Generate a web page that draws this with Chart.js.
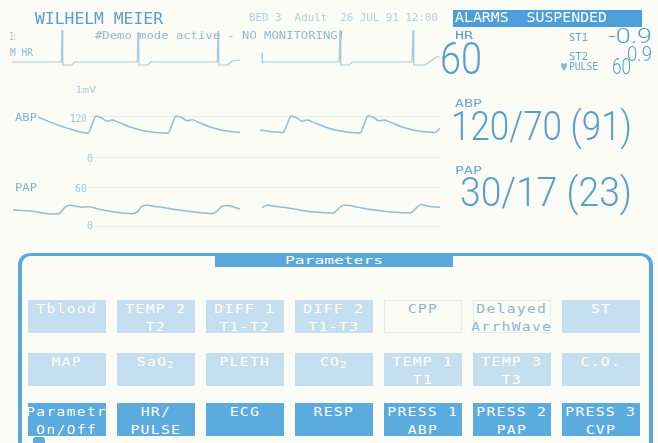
<!DOCTYPE html>
<html>
<head>
<meta charset="utf-8">
<script src="https://cdn.jsdelivr.net/npm/chart.js@4.4.1/dist/chart.umd.min.js"></script>
<style>
html, body { margin: 0; padding: 0; background: #fbfcf6; }
#screen { position: relative; width: 658px; height: 443px; overflow: hidden; background: #fbfcf6; }
.trace { position: absolute; left: 12px; width: 428px; }
.lbl { position: absolute; white-space: pre; transform-origin: 0 50%; }
.box { position: absolute; }
.btn { position: absolute; width: 78px; height: 33px; text-align: center; color: #fff;
       font-family: "DejaVu Sans Mono", monospace; font-size: 11.5px; line-height: 18px; }
.btn span { display: inline-block; transform: scaleX(1.28); letter-spacing: 1px; }
.btn sub { font-size: 8px; vertical-align: -2px; }
</style>
</head>
<body>
<div id="screen">
  <div class="trace" style="top:25px;height:45px"><canvas id="ecg"></canvas></div>
  <div class="trace" style="top:95px;height:65px"><canvas id="abp"></canvas></div>
  <div class="trace" style="top:170px;height:60px"><canvas id="pap"></canvas></div>
</div>
<script>
// sweep time in seconds (screen sweeps left to right, gap = erase bar)
const ecgTime = [0, 0.615, 0.625, 0.635, 0.75, 0.78, 1.565, 1.575, 1.585, 1.7, 1.73,
  2.565, 2.575, 2.585, 2.7, 2.75, 2.85, 2.98,
  3.125, 3.13, 3.14, 4.09, 4.1, 4.11, 4.22, 4.25, 5.0, 5.0125, 5.022, 5.17, 5.3, 5.35];
const ecgMv = [0, 0, 1.6, -0.15, -0.15, 0, 0, 1.5, -0.15, -0.15, 0,
  0, 1.55, -0.15, -0.15, 0.05, 0.1, null,
  0.45, -0.05, 0, 0, 1.6, -0.15, -0.15, 0, 0, 1.6, -0.15, -0.15, 0.25, 0.25];

const abpTime = [0.325, 0.538, 0.725, 0.95, 1.0, 1.05, 1.125, 1.188, 1.25, 1.325, 1.475, 1.663, 1.913,
  1.95, 2.0, 2.05, 2.125, 2.188, 2.25, 2.325, 2.475, 2.663, 2.85, 2.98,
  3.1, 3.25, 3.388, 3.438, 3.488, 3.563, 3.625, 3.688, 3.763, 3.913, 4.1, 4.35,
  4.4, 4.45, 4.525, 4.588, 4.65, 4.725, 4.875, 5.063, 5.288, 5.35];
const abpMmHg = [117, 97, 82, 70, 94, 120, 114, 105, 108, 102, 88, 76, 70,
  70, 94, 120, 115, 106, 109, 102, 88, 77, 72, null,
  79, 74, 72, 95, 120, 114, 105, 108, 102, 88, 76, 70,
  94, 121, 115, 106, 108, 102, 88, 77, 72, 85];

const papTime = [0.013, 0.225, 0.538, 0.6, 0.663, 0.725, 0.8, 0.875, 0.95, 1.1, 1.288, 1.5,
  1.563, 1.625, 1.7, 1.788, 1.875, 2.038, 2.288, 2.5, 2.563, 2.625, 2.7, 2.788, 2.85, 2.98,
  3.125, 3.2, 3.3, 3.413, 3.6, 3.825, 4.013, 4.075, 4.138, 4.225, 4.325, 4.538, 4.788,
  4.975, 5.038, 5.113, 5.2, 5.35];
const papMmHg = [24.6, 23, 18.5, 20, 29, 32, 30.5, 29, 29.5, 25.5, 21.5, 19,
  21.5, 30.5, 32, 30, 29, 25.5, 21.5, 19, 23, 30.5, 31.5, 28.5, 26, null,
  28.5, 32, 30, 28.5, 24.6, 21, 20, 26, 32, 31.5, 29, 24.6, 21,
  20, 26, 33, 30.5, 29];

const abpRefs = [120, 0];
const papRefs = [60, 0];

const refLines = {
  id: 'refLines',
  beforeDatasetsDraw(chart, args, opts) {
    if (!opts.values) return;
    const { ctx, scales: { x, y } } = chart;
    ctx.save();
    ctx.strokeStyle = '#e3ecf0';
    ctx.lineWidth = 1;
    opts.values.forEach((v, i) => {
      const py = Math.round(y.getPixelForValue(v)) + 0.5;
      ctx.beginPath();
      ctx.moveTo(x.getPixelForValue(opts.from[i]), py);
      ctx.lineTo(x.right, py);
      ctx.stroke();
    });
    ctx.restore();
  }
};
Chart.register(refLines);

function trace(id, times, values, yMin, yMax, color, width, tension, refs, from) {
  return new Chart(document.getElementById(id), {
    type: 'line',
    data: {
      datasets: [{
        data: times.map((t, i) => ({ x: t, y: values[i] })),
        borderColor: color,
        borderWidth: width,
        pointRadius: 0,
        tension: tension,
        cubicInterpolationMode: tension ? 'monotone' : 'default',
        spanGaps: false
      }]
    },
    options: {
      responsive: true,
      maintainAspectRatio: false,
      animation: false,
      layout: { padding: 0 },
      plugins: { legend: { display: false }, tooltip: { enabled: false },
                 refLines: { values: refs, from: from } },
      scales: {
        x: { type: 'linear', min: 0, max: 5.35, display: false },
        y: { min: yMin, max: yMax, display: false }
      }
    }
  });
}

trace('ecg', ecgTime, ecgMv, -0.4, 1.85, '#a9cade', 1.2, 0, null, null);
trace('abp', abpTime, abpMmHg, -8.8, 181.5, '#92bcd5', 1.5, 0.4, abpRefs, [0.95, 1.04]);
trace('pap', papTime, papMmHg, -6.15, 86.2, '#92bcd5', 1.5, 0.4, papRefs, [0.95, 1.04]);

// ---- screen text and boxes ----
const screen = document.getElementById('screen');
const MONO = '"DejaVu Sans Mono", monospace';
const THIN = 'Roboto, "Liberation Sans", sans-serif';

function box(x, y, w, h, css) {
  const el = document.createElement('div');
  el.className = 'box';
  el.style.cssText = `left:${x}px;top:${y}px;width:${w}px;height:${h}px;${css}`;
  screen.appendChild(el);
  return el;
}

function put(str, x, capTop, capH, w, color, fam) {
  const thin = fam === THIN;
  const fs = capH / (thin ? 0.72 : 0.72);
  const el = document.createElement('div');
  el.className = 'lbl';
  el.textContent = str;
  el.style.cssText = `left:${x}px;top:${capTop + capH / 2 - 0.49 * fs}px;font-size:${fs}px;` +
    `line-height:${fs}px;color:${color};font-family:${fam};font-weight:${thin ? 300 : 400}`;
  screen.appendChild(el);
  const mw = el.getBoundingClientRect().width;
  el.style.transform = `scaleX(${w / mw})`;
}

// header
put('WILHELM MEIER', 35, 13, 12, 128, '#5a9ecf', MONO);
put('BED 3  Adult  26 JUL 91 12:00', 249, 14, 7, 189, '#b3cfe0', MONO);
box(453, 10, 189, 17, 'background:#4c9fd8');
put('ALARMS  SUSPENDED', 455, 13, 10, 152, '#ffffff', MONO);
put('I:', 10, 33, 7, 6, '#8db8d2', MONO);
put('M HR', 10, 49, 7, 23, '#8db8d2', MONO);
put('#Demo mode active - NO MONITORING!', 95, 32, 7, 250, '#93bbd2', MONO);

// right side numerics
put('HR', 455, 31, 8, 18, '#5a9ecf', MONO);
put('60', 440, 43, 32, 42, '#5a9ecf', THIN);
put('ST1', 569, 33, 8, 19, '#6aa7d2', MONO);
put('-0.9', 608, 29, 15, 44, '#5a9ecf', THIN);
put('ST2', 569, 52, 8, 19, '#6aa7d2', MONO);
put('0.9', 627, 47, 15, 25, '#5a9ecf', THIN);
put('♥', 560, 63, 8, 8, '#8db8d2', '"DejaVu Sans", sans-serif');
put('PULSE', 569, 63, 7, 29, '#6aa7d2', MONO);
put('60', 612, 58, 16, 19, '#5a9ecf', THIN);

put('ABP', 455, 100, 7, 27, '#6aa7d2', MONO);
put('120/70 (91)', 451, 112, 29, 181, '#5a9ecf', THIN);
put('PAP', 455, 167, 7, 27, '#6aa7d2', MONO);
put('30/17 (23)', 460, 178, 29, 172, '#5a9ecf', THIN);

// wave labels
put('1mV', 75, 87, 6, 21, '#b6cfdd', MONO);
put('ABP', 15, 114, 7, 22, '#7fb1d8', MONO);
put('120', 70, 114, 8, 17, '#a6c6da', MONO);
put('0', 87, 155, 7, 6, '#a6c6da', MONO);
put('PAP', 15, 184, 7, 22, '#7fb1d8', MONO);
put('60', 75, 184, 8, 12, '#a6c6da', MONO);
put('0', 87, 222, 7, 6, '#a6c6da', MONO);

// parameter panel
box(18, 253, 627, 200, 'border:4px solid #5aa7d9;border-top-width:3px;border-bottom:none;border-radius:12px 12px 0 0;');
box(215, 253, 238, 14, 'background:#5aa7d9');
put('Parameters', 285, 256, 8, 98, '#ffffff', MONO);

const btnX = [28, 117, 206, 295, 384, 473, 562];
const rows = [
  { y: 300, labels: ['Tblood', 'TEMP 2<br>T2', 'DIFF 1<br>T1-T2', 'DIFF 2<br>T1-T3', 'CPP', 'Delayed<br>ArrhWave', 'ST'],
    bg: ['#c6dff0', '#c6dff0', '#c6dff0', '#c6dff0', '#fbfcf6', '#fbfcf6', '#c6dff0'] },
  { y: 353, labels: ['MAP', 'SaO<sub>2</sub>', 'PLETH', 'CO<sub>2</sub>', 'TEMP 1<br>T1', 'TEMP 3<br>T3', 'C.O.'],
    bg: ['#c6dff0', '#c6dff0', '#c6dff0', '#c6dff0', '#c6dff0', '#c6dff0', '#c6dff0'] },
  { y: 403, labels: ['Parametr<br>On/Off', 'HR/<br>PULSE', 'ECG', 'RESP', 'PRESS 1<br>ABP', 'PRESS 2<br>PAP', 'PRESS 3<br>CVP'],
    bg: ['#5cabdf', '#5cabdf', '#5cabdf', '#5cabdf', '#5cabdf', '#5cabdf', '#5cabdf'] }
];
rows.forEach(r => {
  r.labels.forEach((lab, i) => {
    const el = document.createElement('div');
    el.className = 'btn';
    el.style.left = btnX[i] + 'px';
    el.style.top = r.y + 'px';
    el.style.background = r.bg[i];
    if (r.bg[i] === '#fbfcf6') {
      el.style.color = '#93b5cb';
      el.style.boxShadow = 'inset 0 0 0 1px #e2ebef';
    }
    el.innerHTML = '<span>' + lab.split('<br>').join('</span><br><span>') + '</span>';
    screen.appendChild(el);
  });
});
box(33, 437, 12, 6, 'background:#5cabdf;border-radius:3px 3px 0 0');
</script>
</body>
</html>
